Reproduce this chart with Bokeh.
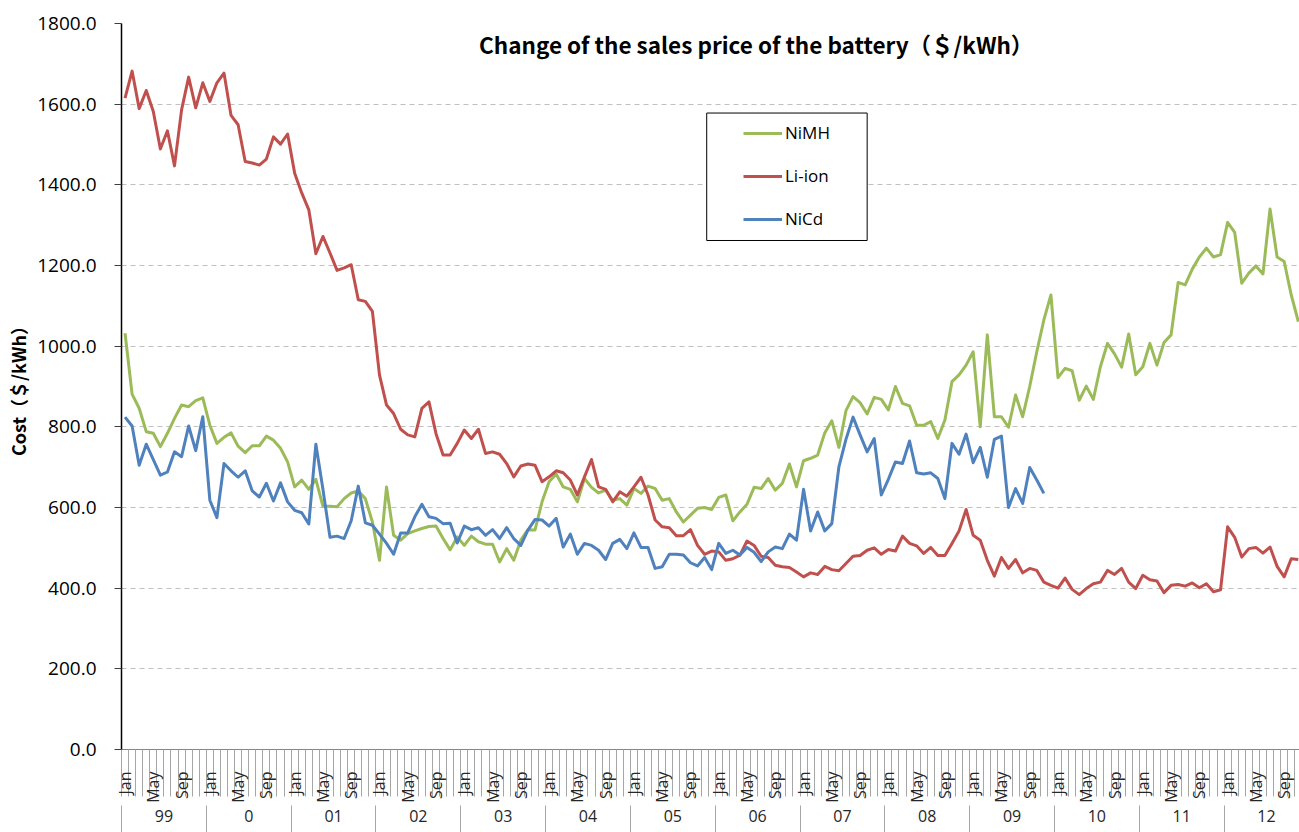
import math
from bokeh.plotting import figure
from bokeh.models import (Range1d, LinearAxis, FixedTicker, NumeralTickFormatter,
                          Legend, LegendItem, Label, BoxAnnotation)
from bokeh.embed import file_html
from bokeh.resources import INLINE

# ---------------- data ----------------
years = ["99", "0", "01", "02", "03", "04", "05", "06", "07", "08", "09", "10", "11", "12"]
month_names = ["Jan", "Feb", "Mar", "Apr", "May", "Jun", "Jul", "Aug", "Sep", "Oct", "Nov", "Dec"]
shown_months = ["Jan", "May", "Sep"]

# NiMH, Jan 1999 .. Nov 2012 ($/kWh)
nimh = [1032, 881, 846, 788, 784, 751, 784, 821, 854, 850, 865, 872,
        804, 759, 774, 785, 752, 736, 753, 753, 777, 767, 747, 713,
        651, 668, 645, 670, 603, 603, 602, 622, 636, 641, 622, 564,
        469, 651, 531, 519, 535, 542, 548, 553, 554, 523, 495, 527,
        506, 529, 515, 509, 509, 465, 498, 469, 519, 545, 544, 614,
        664, 683, 651, 645, 614, 672, 650, 636, 643, 618, 622, 606,
        647, 635, 653, 647, 618, 622, 589, 564, 581, 598, 600, 595,
        625, 631, 567, 589, 608, 650, 647, 672, 643, 660, 708, 651,
        716, 722, 730, 785, 815, 749, 840, 875, 860, 832, 873, 868,
        842, 900, 858, 852, 804, 804, 813, 771, 817, 912, 929, 953,
        986, 800, 1028, 825, 825, 799, 879, 825, 900, 986, 1065, 1127,
        922, 945, 939, 866, 901, 868, 949, 1007, 981, 948, 1030, 929,
        949, 1007, 953, 1009, 1028, 1158, 1152, 1191, 1221, 1243, 1221, 1227,
        1307, 1282, 1156, 1181, 1199, 1179, 1340, 1221, 1210, 1127, 1061]

# Li-ion, Jan 1999 .. Nov 2012 ($/kWh)
liion = [1615, 1682, 1589, 1634, 1582, 1489, 1534, 1447, 1586, 1667, 1591, 1653,
         1607, 1653, 1677, 1572, 1549, 1458, 1454, 1449, 1464, 1519, 1501, 1526,
         1429, 1380, 1338, 1229, 1272, 1231, 1188, 1194, 1202, 1115, 1111, 1086,
         929, 854, 833, 794, 780, 775, 846, 862, 783, 730, 730, 759,
         792, 771, 794, 734, 738, 732, 709, 676, 703, 708, 705, 664,
         676, 691, 686, 668, 631, 676, 719, 651, 645, 614, 639, 628,
         651, 675, 631, 569, 552, 550, 530, 530, 545, 506, 484, 492,
         490, 469, 473, 482, 517, 506, 479, 476, 457, 453, 451, 440,
         428, 438, 434, 454, 446, 443, 461, 479, 481, 494, 500, 484,
         496, 492, 529, 511, 505, 486, 501, 481, 481, 511, 542, 595,
         531, 519, 469, 430, 476, 449, 471, 438, 449, 444, 415, 407,
         400, 425, 397, 384, 399, 411, 415, 444, 434, 449, 415, 399,
         432, 421, 418, 389, 407, 409, 405, 413, 401, 411, 391, 396,
         552, 526, 477, 498, 501, 487, 502, 454, 428, 473, 471]

# NiCd, Jan 1999 .. Nov 2009 ($/kWh)
nicd = [824, 802, 705, 757, 719, 680, 688, 738, 726, 802, 741, 825,
        618, 575, 709, 691, 675, 691, 641, 626, 660, 616, 661, 614,
        593, 587, 559, 757, 645, 526, 529, 523, 567, 653, 562, 556,
        534, 511, 484, 537, 537, 577, 608, 577, 573, 560, 561, 512,
        554, 545, 550, 531, 545, 523, 550, 523, 506, 544, 570, 569,
        554, 573, 502, 534, 484, 511, 506, 494, 471, 511, 521, 498,
        537, 501, 501, 449, 453, 484, 484, 482, 463, 455, 476, 446,
        511, 486, 494, 482, 501, 489, 466, 490, 502, 498, 534, 519,
        645, 542, 589, 542, 560, 701, 769, 824, 780, 738, 771, 631,
        670, 713, 709, 765, 686, 683, 686, 672, 622, 759, 732, 782,
        711, 749, 675, 769, 777, 600, 647, 610, 699, 668, 635]

y_ticks = [0, 200, 400, 600, 800, 1000, 1200, 1400, 1600, 1800]
grid_ticks = [200, 400, 600, 800, 1000, 1200, 1400, 1600]

# ---------------- figure ----------------
n_months = len(years) * 12
p = figure(width=1299, height=832, output_backend="svg", toolbar_location=None,
           x_range=Range1d(-0.5, 166.17), y_range=Range1d(0, 1800),
           x_axis_type=None, min_border_left=121, min_border_right=0,
           min_border_top=23, min_border_bottom=83)
p.outline_line_color = None
p.background_fill_color = "white"
p.border_fill_color = "white"

# y axis
p.yaxis.ticker = FixedTicker(ticks=y_ticks)
p.yaxis.formatter = NumeralTickFormatter(format="0.0")
p.yaxis.axis_line_color = "black"
p.yaxis.axis_line_width = 1.5
p.yaxis.major_tick_out = 7
p.yaxis.major_tick_in = 0
p.yaxis.minor_tick_line_color = None
p.yaxis.major_tick_line_color = "#404040"
p.yaxis.major_label_text_font = "Open Sans"
p.yaxis.major_label_text_font_size = "19px"
p.yaxis.major_label_text_color = "black"
p.yaxis.major_label_standoff = 18
p.yaxis.axis_label = "Cost（＄/kWh）"
p.yaxis.axis_label_text_font = "Noto Sans CJK JP"
p.yaxis.axis_label_text_font_style = "bold"
p.yaxis.axis_label_text_font_size = "18px"
p.yaxis.axis_label_text_color = "black"
p.yaxis.axis_label_standoff = 3

p.ygrid.ticker = FixedTicker(ticks=grid_ticks)
p.ygrid.grid_line_color = "#c0c0c0"
p.ygrid.grid_line_dash = "5 4"
p.ygrid.grid_line_width = 1

# x axis: months (labels drawn inside the tick band)
month_ticks = [i for i in range(n_months) if month_names[i % 12] in shown_months]
axA = LinearAxis(
    ticker=FixedTicker(ticks=month_ticks, minor_ticks=[i - 0.5 for i in range(n_months + 1)]),
    major_label_overrides={i: month_names[i % 12] for i in month_ticks},
    major_label_orientation=math.pi / 2,
    major_tick_out=0, major_tick_in=0, major_tick_line_color=None,
    minor_tick_out=47, minor_tick_in=0, minor_tick_line_color="#a6a6a6",
    axis_line_color="#868686", axis_line_width=1,
    major_label_standoff=-25,
    major_label_text_font="Open Sans", major_label_text_font_size="16px",
    major_label_text_color="#262626")
p.add_layout(axA, "below")

# x axis: years
year_centers = [12 * k + 5.5 for k in range(len(years))]
axB = LinearAxis(
    ticker=FixedTicker(ticks=year_centers, minor_ticks=[12 * k - 0.5 for k in range(len(years) + 1)]),
    major_label_overrides={c: y for c, y in zip(year_centers, years)},
    major_tick_out=0, major_tick_in=0, major_tick_line_color=None,
    minor_tick_out=40, minor_tick_in=0, minor_tick_line_color="#a6a6a6",
    axis_line_color=None,
    major_label_standoff=-36,
    major_label_text_font="Open Sans", major_label_text_font_size="16px",
    major_label_text_color="#262626")
p.add_layout(axB, "below")

# lines
r_nimh = p.line(list(range(len(nimh))), nimh, line_color="#9BBB59", line_width=3, line_join="round")
r_liion = p.line(list(range(len(liion))), liion, line_color="#C0504D", line_width=3, line_join="round")
r_nicd = p.line(list(range(len(nicd))), nicd, line_color="#4F81BD", line_width=3, line_join="round")

# legend box + legend
box = BoxAnnotation(left=82.3, right=105.0, bottom=1262, top=1578,
                    fill_color="white", fill_alpha=1.0,
                    line_color="black", line_width=1, line_alpha=1.0)
p.add_layout(box)

legend = Legend(items=[LegendItem(label="NiMH", renderers=[r_nimh]),
                       LegendItem(label="Li-ion", renderers=[r_liion]),
                       LegendItem(label="NiCd", renderers=[r_nicd])],
                location=(622, 519), border_line_color=None, background_fill_alpha=0,
                padding=0, margin=0, spacing=20, glyph_height=20, glyph_width=39,
                label_height=20, label_standoff=3,
                label_text_font="Open Sans", label_text_font_size="17px",
                label_text_color="black")
p.add_layout(legend)

# title inside plot
title = Label(x=89.3, y=1750, text="Change of the sales price of the battery（＄/kWh）",
              text_align="center", text_baseline="alphabetic",
              text_font="Noto Sans CJK JP", text_font_style="bold",
              text_font_size="22.5px", text_color="black")
p.add_layout(title)

open("out.html", "w").write(file_html(p, INLINE))
